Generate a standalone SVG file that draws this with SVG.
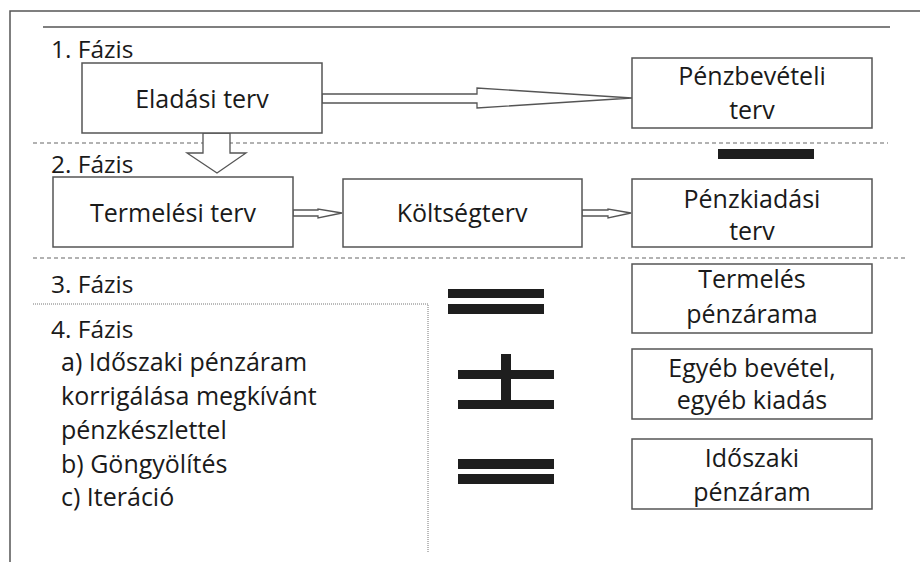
<svg xmlns="http://www.w3.org/2000/svg" width="920" height="562" viewBox="0 0 920 562">
<style>
.t{font-family:"Open Sans","Noto Sans",sans-serif;font-size:25px;fill:#1a1a1a}
.f{font-size:24.5px}
.c{text-anchor:middle}
.box{fill:#fff;stroke:#555;stroke-width:1.5}
.ln{stroke:#555;stroke-width:1.5;fill:none}
.dash{stroke:#666;stroke-width:1.2;stroke-dasharray:4 3;fill:none}
.dot{stroke:#777;stroke-width:1;stroke-dasharray:1 1;fill:none}
.arr{fill:#fff;stroke:#555;stroke-width:1.3}
.bar{fill:#1e1e1e}
</style>
<rect width="920" height="562" fill="#fff"/>
<g id="frame">
<polyline class="ln" points="10,562 10,11 920,11"/>
<line class="ln" x1="43" y1="27" x2="890" y2="27"/>
<line class="dash" x1="33" y1="143" x2="888" y2="143"/>
<line class="dash" x1="33" y1="258" x2="907" y2="258"/>
<polyline class="dot" points="33,304 428,304 428,552"/>
</g>
<g id="labels">
<text class="t f" x="51" y="58">1. Fázis</text>
<text class="t f" x="51" y="173">2. Fázis</text>
<text class="t f" x="51" y="293">3. Fázis</text>
<text class="t f" x="51" y="338">4. Fázis</text>
<text class="t" x="61" y="371">a) Időszaki pénzáram</text>
<text class="t" x="61" y="405">korrigálása megkívánt</text>
<text class="t" x="61" y="439">pénzkészlettel</text>
<text class="t" x="61" y="473">b) Göngyölítés</text>
<text class="t" x="61" y="506">c) Iteráció</text>
</g>
<g id="connectors">
<polygon class="arr" points="322,94 477,94 477,88 632,98 477,108 477,103 322,103"/>
<polygon class="arr" points="203,133 230,133 230,153 246,153 217,173 187,153 203,153"/>
<polygon class="arr" points="293,210 318,210 318,209 342,213 318,218 318,216 293,216"/>
<polygon class="arr" points="582,210 608,210 608,209 631,213 608,218 608,216 582,216"/>
</g>
<g id="elad">
<rect class="box" x="82" y="63" width="240" height="70"/>
<text class="t c" x="202" y="108">Eladási terv</text>
</g>
<g id="penzbev">
<rect class="box" x="632" y="58" width="240" height="70"/>
<text class="t c" x="752" y="85">Pénzbevételi</text>
<text class="t c" x="752" y="119">terv</text>
</g>
<g id="termterv">
<rect class="box" x="53" y="177" width="240" height="70"/>
<text class="t c" x="173" y="222">Termelési terv</text>
</g>
<g id="koltseg">
<rect class="box" x="343" y="179" width="239" height="68"/>
<text class="t c" x="462" y="222">Költségterv</text>
</g>
<g id="penzkiad">
<rect class="box" x="632" y="179" width="240" height="68"/>
<text class="t c" x="752" y="208">Pénzkiadási</text>
<text class="t c" x="752" y="240">terv</text>
</g>
<g id="termpenz">
<rect class="box" x="632" y="264" width="240" height="69"/>
<text class="t c" x="752" y="288">Termelés</text>
<text class="t c" x="752" y="323">pénzárama</text>
</g>
<g id="egyeb">
<rect class="box" x="632" y="349" width="240" height="70"/>
<text class="t c" x="752" y="377">Egyéb bevétel,</text>
<text class="t c" x="752" y="409">egyéb kiadás</text>
</g>
<g id="idoszaki">
<rect class="box" x="632" y="439" width="240" height="70"/>
<text class="t c" x="752" y="467">Időszaki</text>
<text class="t c" x="752" y="501">pénzáram</text>
</g>
<g id="symbols">
<rect class="bar" x="718" y="149" width="96" height="10"/>
<rect class="bar" x="448" y="289" width="96" height="9"/>
<rect class="bar" x="448" y="304" width="96" height="10"/>
<rect class="bar" x="458" y="370" width="96" height="9"/>
<rect class="bar" x="458" y="400" width="96" height="9"/>
<rect class="bar" x="501" y="354" width="10" height="50"/>
<rect class="bar" x="458" y="459" width="96" height="10"/>
<rect class="bar" x="458" y="474" width="96" height="10"/>
</g>
</svg>
